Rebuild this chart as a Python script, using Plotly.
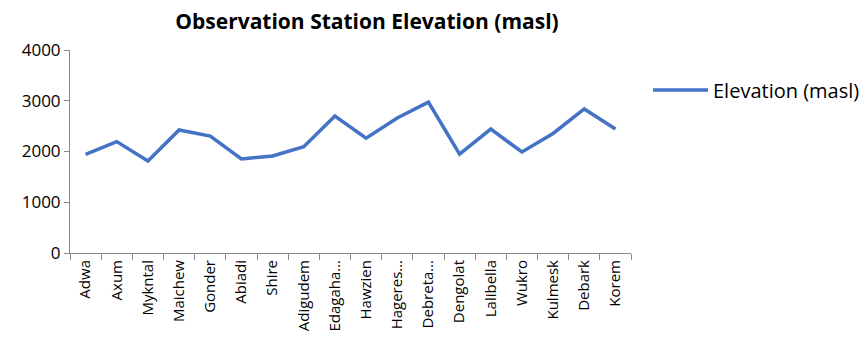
import plotly.graph_objects as go

stations = ["Adwa", "Axum", "Mykntal", "Maichew", "Gonder", "Abiadi", "Shire", "Adigudem",
            "Edagaha…", "Hawzien", "Hageres…", "Debreta…", "Dengolat", "Lalibella", "Wukro",
            "Kulmesk", "Debark", "Korem"]
elevation = [1945, 2195, 1813, 2425, 2305, 1852, 1911, 2095,
             2700, 2262, 2660, 2972, 1948, 2443, 1990, 2355, 2838, 2443]
y_ticks = [0, 1000, 2000, 3000, 4000]

font_family = "Open Sans, Noto Sans, sans-serif"

fig = go.Figure()
fig.add_trace(go.Scatter(
    x=stations, y=elevation, mode="lines", name="Elevation (masl)",
    line=dict(color="#4472C4", width=3.5),
))

fig.update_layout(
    width=867, height=340,
    margin=dict(l=70, r=236, t=50, b=87),
    paper_bgcolor="white", plot_bgcolor="white",
    title=dict(text="<b>Observation Station Elevation (masl)</b>", x=367/867, xanchor="center",
               y=1 - 22/340, yanchor="middle",
               font=dict(family=font_family, size=21, color="black")),
    font=dict(family=font_family, color="black"),
    showlegend=True,
    legend=dict(x=648/867, xref="container", xanchor="left",
                y=1 - 90/340, yref="container", yanchor="middle",
                font=dict(size=20, color="black"), itemwidth=55,
                bgcolor="rgba(0,0,0,0)"),
    xaxis=dict(
        type="category", range=[-0.5, len(stations) - 0.5], automargin=False,
        showline=True, linecolor="#888888", linewidth=1,
        ticks="outside", tickson="boundaries", ticklen=6, tickcolor="#888888",
        tickangle=-90, tickfont=dict(size=15, color="black"),
        showgrid=False, zeroline=False,
    ),
    yaxis=dict(
        range=[0, 4000], tickvals=y_ticks, automargin=False,
        showline=True, linecolor="#888888", linewidth=1,
        ticks="outside", ticklen=5, tickcolor="#888888",
        tickfont=dict(size=17, color="black"),
        showgrid=False, zeroline=False,
    ),
)

fig.write_html("out.html")
